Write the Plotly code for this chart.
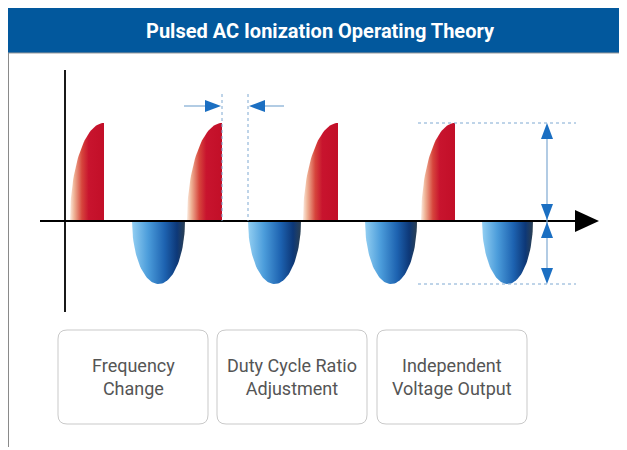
import numpy as np
import plotly.graph_objects as go

W, H = 627, 450
X0, Y0 = 65, 221  # pixel position of the diagram origin
PAGE_OFFSET = 8   # default body margin of the html page

# pulse trains (time units, voltage units; 1 unit ~ 1 px)
pos_start = [5, 122, 238, 356]
pos_width = [34, 35, 35, 34]
pos_amp = [98, 98, 98, 98]
neg_start = [67, 183, 300, 417]
neg_width = [53, 53, 52, 51]
neg_amp = [63, 63, 63, 63]

title = "Pulsed AC Ionization Operating Theory"
box_labels = ["Frequency<br>Change", "Duty Cycle Ratio<br>Adjustment", "Independent<br>Voltage Output"]
box_left = [58, 217, 377]
box_width = 150

RED_SCALE = [[0, "#fbeadf"], [0.12, "#efb497"], [0.35, "#d6453c"], [0.55, "#c8142e"], [1, "#c20f28"]]
BLUE_SCALE = [[0, "#93cff2"], [0.3, "#4c9ddb"], [0.62, "#1d62b0"], [0.85, "#0d3878"], [1, "#2c4052"]]
ARROW_BLUE = "#1b6fc2"
GUIDE = "#7fa9d2"


def px(x):
    return x - X0


def py(y):
    return Y0 - y


def tri(points):
    return "M " + " L ".join(f"{a},{b}" for a, b in points) + " Z"


def rounded_rect(x0, y0, x1, y1, r):
    return (f"M {x0+r},{y0} L {x1-r},{y0} Q {x1},{y0} {x1},{y0-r} "
            f"L {x1},{y1+r} Q {x1},{y1} {x1-r},{y1} L {x0+r},{y1} "
            f"Q {x0},{y1} {x0},{y1+r} L {x0},{y0-r} Q {x0},{y0} {x0+r},{y0} Z")


fig = go.Figure()

# positive pulses: quarter-wave rising then cut off
for s, w, a in zip(pos_start, pos_width, pos_amp):
    th = np.linspace(0, np.pi / 2, 40)
    xs = list(s + w - w * np.cos(th)) + [s + w, s]
    ys = list(a * np.sin(th)) + [0, 0]
    fig.add_trace(go.Scatter(
        x=xs, y=ys, mode="lines", fill="toself", line=dict(width=0),
        fillgradient=dict(type="horizontal", colorscale=RED_SCALE, start=s, stop=s + w),
        hoverinfo="skip", showlegend=False,
    ))

# negative pulses: half-wave
for s, w, a in zip(neg_start, neg_width, neg_amp):
    th = np.linspace(np.pi, 2 * np.pi, 60)
    xs = list(s + w / 2 + w / 2 * np.cos(th))
    ys = list(a * np.sin(th))
    fig.add_trace(go.Scatter(
        x=xs, y=ys, mode="lines", fill="toself", line=dict(width=0),
        fillgradient=dict(type="horizontal", colorscale=BLUE_SCALE, start=s, stop=s + w),
        hoverinfo="skip", showlegend=False,
    ))

shapes = []
# title bar + frame
shapes.append(dict(type="rect", x0=px(5), x1=px(640), y0=py(8), y1=py(53),
                   fillcolor="#02589d", line=dict(width=0), layer="below"))
shapes.append(dict(type="line", x0=px(5), x1=px(640), y0=py(53), y1=py(53),
                   line=dict(color="#9a9a9a", width=1)))
shapes.append(dict(type="line", x0=px(8.5), x1=px(8.5), y0=py(53), y1=py(447),
                   line=dict(color="#8a8a8a", width=1)))

# axes
shapes.append(dict(type="line", x0=px(40), x1=px(578), y0=0, y1=0, line=dict(color="black", width=1.8)))
shapes.append(dict(type="line", x0=0, x1=0, y0=py(70), y1=py(312), line=dict(color="black", width=1.8)))
shapes.append(dict(type="path", path=tri([(px(575), 11), (px(599), 0), (px(575), -11)]),
                   fillcolor="black", line=dict(width=0)))

# duty cycle markers
pulse2_end = pos_start[1] + pos_width[1]
neg2_start = neg_start[1]
for xv in [pulse2_end, neg2_start]:
    shapes.append(dict(type="line", x0=xv, x1=xv, y0=py(94), y1=0,
                       line=dict(color=GUIDE, width=1, dash="dot")))
ya = py(106)
shapes.append(dict(type="line", x0=px(184), x1=px(206), y0=ya, y1=ya, line=dict(color=GUIDE, width=1.2)))
shapes.append(dict(type="path", path=tri([(pulse2_end - 17, ya + 6), (pulse2_end - 1, ya), (pulse2_end - 17, ya - 6)]),
                   fillcolor=ARROW_BLUE, line=dict(width=0)))
shapes.append(dict(type="line", x0=neg2_start + 16, x1=px(284), y0=ya, y1=ya, line=dict(color=GUIDE, width=1.2)))
shapes.append(dict(type="path", path=tri([(neg2_start + 17, ya + 6), (neg2_start + 1, ya), (neg2_start + 17, ya - 6)]),
                   fillcolor=ARROW_BLUE, line=dict(width=0)))

# amplitude markers
top, bot = pos_amp[-1], -neg_amp[-1]
for yv in [top, bot]:
    shapes.append(dict(type="line", x0=px(418), x1=px(576), y0=yv, y1=yv,
                       line=dict(color=GUIDE, width=1, dash="dot")))
xa = px(547)
shapes.append(dict(type="line", x0=xa, x1=xa, y0=top - 10, y1=bot + 10, line=dict(color=GUIDE, width=1.2)))
hw, hl = 6, 16
for tip, d in [(top, -1), (1, 1), (-1, -1), (bot, 1)]:
    shapes.append(dict(type="path", path=tri([(xa - hw, tip + d * hl), (xa, tip), (xa + hw, tip + d * hl)]),
                       fillcolor=ARROW_BLUE, line=dict(width=0)))

# feature boxes
annotations = [dict(x=px(320), y=py(31), text=f"<b>{title}</b>", showarrow=False,
                    font=dict(family="Roboto", size=20, color="white"), xanchor="center", yanchor="middle")]
for left, label in zip(box_left, box_labels):
    shapes.append(dict(type="path", path=rounded_rect(px(left), py(330), px(left + box_width), py(424), 9),
                       line=dict(color="#c9c9c9", width=1), fillcolor="rgba(0,0,0,0)"))
    annotations.append(dict(x=px(left + box_width / 2), y=py(377), text=label, showarrow=False,
                            font=dict(family="Roboto", size=18, color="#555555"),
                            xanchor="center", yanchor="middle", align="center"))

# shift the view so that the page margin does not offset the drawing
fig.update_layout(
    width=W, height=H,
    margin=dict(l=0, r=0, t=0, b=0),
    xaxis=dict(range=[px(PAGE_OFFSET), px(W + PAGE_OFFSET)], visible=False, fixedrange=True),
    yaxis=dict(range=[py(H + PAGE_OFFSET), py(PAGE_OFFSET)], visible=False, fixedrange=True),
    shapes=shapes,
    annotations=annotations,
    plot_bgcolor="white",
    paper_bgcolor="white",
    showlegend=False,
)

fig.write_html("out.html")
